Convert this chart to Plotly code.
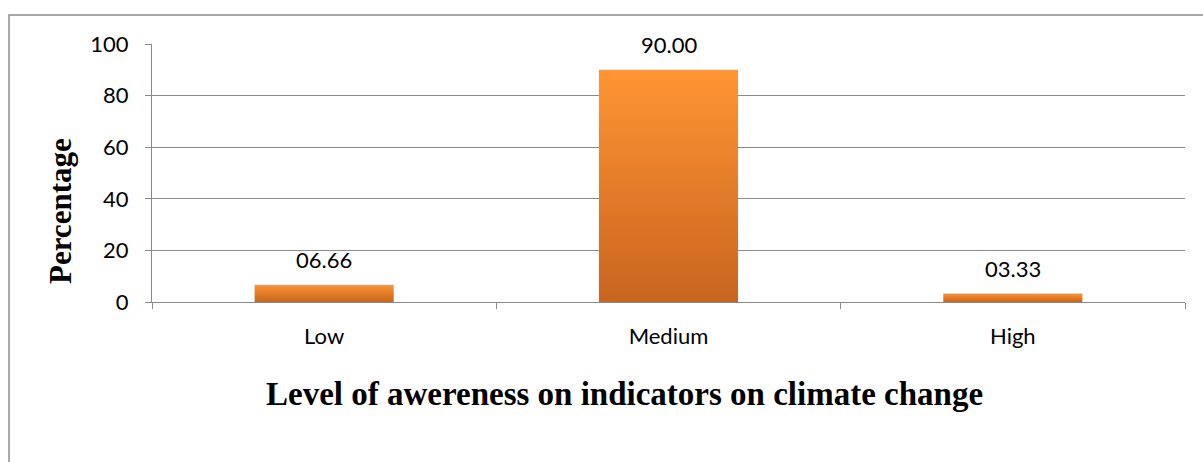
import plotly.graph_objects as go

categories = ["Low", "Medium", "High"]
values = [6.66, 90.00, 3.33]
value_labels = ["06.66", "90.00", "03.33"]
y_ticks = [0, 20, 40, 60, 80, 100]

x_title = "Level of awereness on indicators on climate change"
y_title = "Percentage"

BAR_W = 0.404
GRID = "#8a8a8a"
TICK_FONT = dict(family="Lato", size=22, color="#000000")

fig = go.Figure()

for i, (cat, v) in enumerate(zip(categories, values)):
    x0, x1 = i - BAR_W / 2, i + BAR_W / 2
    fig.add_trace(go.Scatter(
        x=[x0, x1, x1, x0, x0], y=[0, 0, v, v, 0],
        mode="lines", fill="toself", line=dict(width=0),
        fillgradient=dict(type="vertical",
                          colorscale=[[0, "#C8651F"], [1, "#FF9533"]]),
        hoverinfo="skip", showlegend=False, name=cat,
    ))

for i, (v, lab) in enumerate(zip(values, value_labels)):
    fig.add_annotation(x=i, y=v, text=lab, showarrow=False,
                       xanchor="center", yanchor="middle", yshift=25,
                       font=TICK_FONT)

fig.add_annotation(xref="paper", yref="paper", x=0.457, y=-0.357,
                   text=f"<b>{x_title}</b>", showarrow=False,
                   xanchor="center", yanchor="middle",
                   font=dict(family="Liberation Serif", size=33, color="#000"))
fig.add_annotation(xref="paper", yref="paper", x=-0.088, y=0.353,
                   text=f"<b>{y_title}</b>", showarrow=False, textangle=-90,
                   xanchor="center", yanchor="middle",
                   font=dict(family="Liberation Serif", size=31, color="#000"))

fig.add_shape(type="rect", xref="paper", yref="paper",
              x0=-0.1384, x1=2.0, y0=-2.0, y1=1.1124,
              line=dict(color="#8c8c8c", width=1.5), fillcolor="rgba(0,0,0,0)")

fig.update_layout(
    width=1203, height=462,
    margin=dict(l=152, r=18, t=44, b=160),
    paper_bgcolor="white", plot_bgcolor="white",
    showlegend=False,
    xaxis=dict(
        range=[-0.5, 2.5], tickmode="array", tickvals=list(range(len(categories))),
        ticktext=categories, ticks="", tickfont=TICK_FONT,
        ticklabelstandoff=14,
        showgrid=False, zeroline=False,
        showline=True, linecolor=GRID, linewidth=1.3,
        minor=dict(tick0=-0.5, dtick=1, ticks="outside", ticklen=6,
                   tickcolor=GRID, tickwidth=1.3, showgrid=False),
        fixedrange=True,
    ),
    yaxis=dict(
        range=[0, 100], tickmode="array", tickvals=y_ticks,
        ticks="outside", ticklen=6, tickcolor=GRID, tickwidth=1.3,
        tickfont=TICK_FONT, ticklabelstandoff=12,
        showgrid=True, gridcolor=GRID, gridwidth=1.3,
        zeroline=False, showline=True, linecolor=GRID, linewidth=1.3,
        fixedrange=True,
    ),
)

fig.write_html("out.html", config={"displayModeBar": False},
               post_script="document.body.style.margin='0';document.body.style.overflow='hidden';")
